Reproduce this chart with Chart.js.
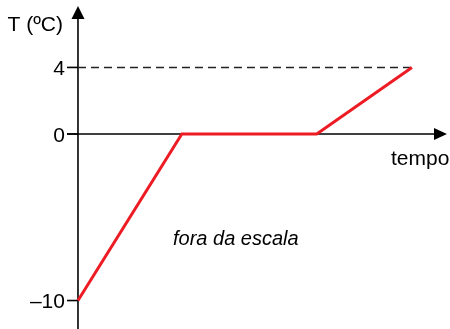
<!DOCTYPE html>
<html>
<head>
<meta charset="utf-8">
<script src="https://cdn.jsdelivr.net/npm/chart.js@4.4.1/dist/chart.umd.min.js"></script>
<style>
  html, body { margin: 0; padding: 0; background: #fff; }
  #wrap { width: 450px; height: 329px; }
</style>
</head>
<body>
<div id="wrap"><canvas id="grafico"></canvas></div>
<script>
// dados
const tempo = [0, 3.11, 7.15, 10];
const temperatura = [-10, 0, 0, 4];
const yTicks = [4, 0, -10];
const yTickLabels = ['4', '0', '–10'];
const yTitulo = 'T (ºC)';
const xTitulo = 'tempo';
const nota = 'fora da escala';

const FONT = '21px "Liberation Sans", Arial, sans-serif';

const eixos = {
  id: 'eixos',
  beforeDatasetsDraw(chart) {
    const { ctx, scales: { x, y } } = chart;
    const x0 = x.getPixelForValue(0);
    const y0 = y.getPixelForValue(0);
    ctx.save();
    ctx.strokeStyle = '#000';
    ctx.fillStyle = '#000';
    ctx.lineWidth = 1.6;
    // eixo vertical
    ctx.beginPath();
    ctx.moveTo(x0, chart.height);
    ctx.lineTo(x0, 16);
    ctx.stroke();
    ctx.beginPath();
    ctx.moveTo(x0, 6);
    ctx.lineTo(x0 - 6.5, 19);
    ctx.lineTo(x0 + 6.5, 19);
    ctx.closePath();
    ctx.fill();
    // eixo horizontal
    ctx.beginPath();
    ctx.moveTo(x0 - 11, y0);
    ctx.lineTo(436, y0);
    ctx.stroke();
    ctx.beginPath();
    ctx.moveTo(447, y0);
    ctx.lineTo(434, y0 - 6);
    ctx.lineTo(434, y0 + 6);
    ctx.closePath();
    ctx.fill();
    // marcas
    yTicks.forEach(v => {
      const py = y.getPixelForValue(v);
      ctx.beginPath();
      ctx.moveTo(x0 - 11, py);
      ctx.lineTo(x0, py);
      ctx.stroke();
    });
    ctx.restore();
  },
  afterDraw(chart) {
    const { ctx, scales: { x, y } } = chart;
    const x0 = x.getPixelForValue(0);
    ctx.save();
    ctx.fillStyle = '#000';
    ctx.font = FONT;
    ctx.textBaseline = 'alphabetic';
    ctx.textAlign = 'right';
    yTicks.forEach((v, i) => {
      ctx.fillText(yTickLabels[i], x0 - 13, y.getPixelForValue(v) + 7.5);
    });
    ctx.fillText(yTitulo, x0 - 15, 31);
    ctx.textAlign = 'left';
    ctx.fillText(xTitulo, 391, 165);
    ctx.font = 'italic 20px "Liberation Sans", Arial, sans-serif';
    ctx.fillText(nota, 173, 245);
    ctx.restore();
  }
};

new Chart(document.getElementById('grafico'), {
  type: 'line',
  data: {
    datasets: [{
      label: 'T',
      data: tempo.map((t, i) => ({ x: t, y: temperatura[i] })),
      borderColor: '#ed1c24',
      borderWidth: 3,
      pointRadius: 0,
      tension: 0,
      fill: false
    }, {
      label: 'ref',
      data: [{ x: 0, y: temperatura[3] }, { x: tempo[3], y: temperatura[3] }],
      borderColor: '#222',
      borderWidth: 1.6,
      borderDash: [8, 5],
      pointRadius: 0,
      fill: false
    }]
  },
  options: {
    responsive: true,
    maintainAspectRatio: false,
    animation: false,
    layout: { padding: 0 },
    plugins: { legend: { display: false }, tooltip: { enabled: false } },
    scales: {
      x: { type: 'linear', display: false, min: -2.335, max: 11.14 },
      y: { type: 'linear', display: false, min: -11.71, max: 8.05 }
    }
  },
  plugins: [eixos]
});
</script>
</body>
</html>
